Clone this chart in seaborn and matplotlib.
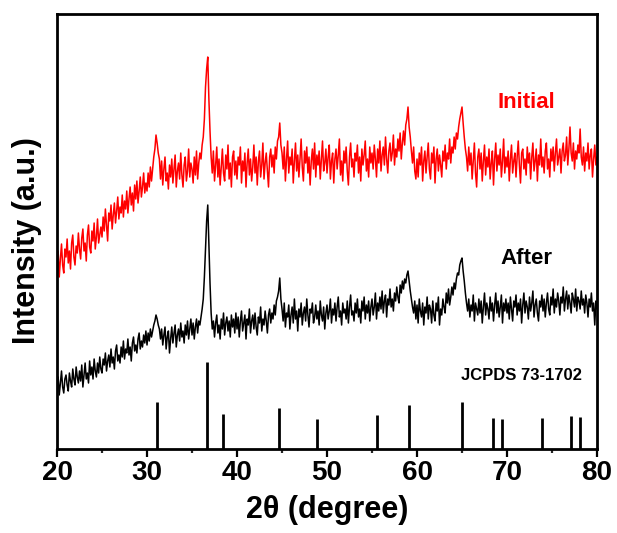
import numpy as np
import pandas as pd
import matplotlib
matplotlib.use("Agg")
import matplotlib.pyplot as plt
import seaborn as sns

# ---- data (intensity in arbitrary units), 2θ step 0.125° ----
initial = [
    # 20.0 - 24.875
    180, 198, 172, 190, 205, 184, 176, 200, 192, 210,
    186, 198, 180, 206, 214, 192, 184, 203, 196, 216,
    200, 190, 211, 220, 198, 206, 188, 214, 224, 202,
    196, 218, 208, 226, 200, 212, 230, 206, 214, 222,
    # 25.0 - 29.875
    212, 232, 218, 240, 224, 208, 236, 228, 244, 220,
    234, 246, 226, 238, 252, 230, 242, 236, 254, 232,
    248, 240, 258, 236, 250, 262, 244, 256, 238, 264,
    250, 268, 246, 258, 272, 252, 262, 276, 256, 266,
    # 30.0 - 34.875
    258, 276, 262, 282, 268, 280, 292, 300,
    314, 306, 296, 290,
    270, 288, 264, 280, 292, 268, 276, 260, 284, 272,
    290, 266, 280, 294, 262, 278, 286, 270, 296, 274,
    262, 284, 292, 268, 278, 300, 272, 286,
    # 35.0 - 39.875
    280, 266, 292, 274, 298, 270, 286, 296,
    290, 304, 312, 330, 362, 380, 392, 350,
    318, 292, 276, 298, 268, 284, 302, 272,
    290, 264, 282, 300, 276, 268, 294, 280,
    304, 270, 286, 262, 292, 298, 274, 288,
    # 40.0 - 44.875
    270, 292, 284, 302, 266, 288, 278, 296,
    262, 286, 300, 274, 290, 268, 282, 304,
    276, 292, 264, 288, 298, 272, 284, 306,
    270, 286, 296, 278, 262, 292, 300, 282,
    294, 276, 302, 290, 308, 312, 326, 304,
    # 45.0 - 49.875
    296, 280, 302, 268, 290, 308, 276, 292,
    284, 300, 266, 288, 306, 278, 294, 272,
    290, 310, 282, 268, 298, 286, 302, 276,
    292, 264, 288, 300, 280, 306, 272, 294,
    284, 298, 270, 290, 308, 278, 286, 300,
    # 50.0 - 54.875
    276, 292, 304, 270, 288, 296, 266, 290,
    300, 280, 294, 310, 274, 288, 268, 298,
    286, 302, 278, 264, 292, 306, 282, 290,
    272, 296, 288, 304, 276, 292, 268, 300,
    284, 294, 308, 278, 290, 272, 302, 286,
    # 55.0 - 59.875
    296, 280, 304, 290, 272, 300, 286, 308,
    278, 294, 302, 284, 312, 290, 276, 298,
    306, 288, 296, 314, 284, 300, 292, 310,
    298, 316, 290, 306, 318, 304, 324, 330,
    342, 322, 312, 298, 286, 302, 278, 270,
    # 60.0 - 64.875
    290, 272, 296, 284, 302, 268, 288, 298,
    276, 292, 306, 280, 270, 296, 286, 302,
    266, 290, 300, 278, 294, 284, 272, 298,
    288, 304, 280, 296, 290, 310, 286, 302,
    296, 312, 300, 316, 310, 322, 330, 336,
    # 65.0 - 69.875
    342, 326, 312, 300, 292, 278, 302, 284,
    296, 270, 288, 306, 276, 262, 292, 300,
    280, 296, 268, 288, 304, 274, 292, 282,
    300, 270, 286, 298, 264, 290, 306, 278,
    294, 284, 300, 272, 288, 310, 276, 292,
    # 70.0 - 74.875
    282, 298, 268, 290, 304, 276, 288, 296,
    272, 292, 308, 284, 266, 296, 300, 280,
    290, 274, 302, 286, 296, 270, 292, 306,
    278, 288, 300, 268, 294, 284, 310, 282,
    292, 276, 298, 306, 280, 290, 272, 300,
    # 75.0 - 79.875
    288, 302, 278, 296, 310, 284, 292, 300,
    276, 298, 306, 288, 294, 312, 284, 300,
    322, 296, 288, 306, 280, 298, 290, 304,
    296, 320, 292, 284, 302, 278, 296, 288,
    306, 280, 294, 300, 272, 290, 304, 284,
    # 80.0
    292,
]

after = [
    # 20.0 - 24.875
    60, 72, 54, 66, 78, 62, 56, 70, 74, 64,
    58, 76, 68, 62, 80, 70, 64, 82, 72, 66,
    78, 68, 84, 62, 74, 86, 70, 76, 66, 88,
    74, 82, 70, 90, 78, 72, 86, 76, 92, 80,
    # 25.0 - 29.875
    76, 90, 84, 96, 78, 88, 94, 82, 100, 86,
    92, 80, 98, 104, 88, 94, 86, 102, 92, 108,
    90, 100, 96, 110, 94, 102, 88, 106, 112, 98,
    104, 96, 110, 116, 100, 108, 102, 114, 106, 118,
    # 30.0 - 34.875
    104, 116, 108, 120, 112, 118, 124, 128,
    134, 130, 124, 120,
    110, 120, 104, 114, 122, 100, 112, 118, 96, 110,
    122, 106, 116, 124, 102, 114, 120, 108, 126, 112,
    118, 106, 124, 114, 128, 110, 120, 130,
    # 35.0 - 39.875
    114, 126, 110, 122, 130, 116, 128, 124,
    132, 140, 150, 172, 200, 228, 244, 206,
    166, 136, 120, 128, 112, 126, 134, 116,
    124, 110, 130, 120, 136, 114, 126, 132,
    118, 128, 112, 134, 122, 130, 116, 136,
    # 40.0 - 44.875
    120, 132, 112, 128, 138, 118, 126, 134,
    110, 130, 124, 140, 116, 128, 134, 120,
    136, 122, 114, 132, 126, 142, 118, 130,
    124, 138, 128, 116, 134, 140, 126, 136,
    130, 144, 134, 148, 152, 158, 171, 150,
    # 45.0 - 49.875
    140, 128, 146, 122, 136, 132, 144, 120,
    134, 142, 126, 150, 130, 138, 118, 140,
    132, 146, 124, 136, 142, 128, 150, 134,
    122, 140, 136, 146, 126, 132, 144, 130,
    138, 124, 148, 134, 128, 142, 120, 136,
    # 50.0 - 54.875
    144, 130, 138, 150, 126, 140, 134, 146,
    128, 142, 152, 132, 138, 124, 146, 136,
    140, 130, 148, 126, 142, 154, 134, 138,
    128, 146, 136, 150, 132, 140, 126, 148,
    138, 152, 130, 144, 136, 148, 128, 142,
    # 55.0 - 59.875
    150, 134, 142, 156, 130, 146, 138, 152,
    140, 158, 136, 148, 154, 132, 150, 144,
    160, 142, 150, 138, 156, 148, 162, 152,
    146, 164, 156, 168, 160, 170, 166, 174,
    178, 168, 158, 150, 142, 136, 148, 130,
    # 60.0 - 64.875
    144, 126, 150, 138, 132, 146, 124, 142,
    136, 152, 130, 144, 140, 126, 148, 134,
    128, 146, 138, 152, 124, 140, 134, 150,
    142, 136, 156, 146, 160, 144, 152, 162,
    154, 166, 160, 170, 176, 174, 184, 188,
    # 65.0 - 69.875
    191, 178, 168, 156, 146, 138, 150, 132,
    144, 138, 154, 128, 146, 140, 134, 150,
    136, 148, 126, 142, 156, 134, 146, 140,
    130, 152, 138, 146, 128, 144, 156, 136,
    148, 132, 142, 154, 126, 146, 138, 150,
    # 70.0 - 74.875
    136, 146, 130, 152, 140, 128, 148, 142,
    154, 134, 146, 138, 150, 126, 144, 156,
    136, 148, 142, 130, 152, 138, 146, 158,
    132, 144, 150, 136, 128, 148, 142, 154,
    138, 150, 132, 146, 156, 140, 134, 152,
    # 75.0 - 79.875
    144, 160, 136, 150, 142, 156, 148, 134,
    152, 146, 162, 138, 150, 158, 140, 154,
    146, 136, 156, 150, 142, 160, 138, 152,
    148, 140, 158, 144, 150, 136, 154, 146,
    132, 150, 142, 156, 138, 146, 124, 148,
    # 80.0
    140,
]

two_theta = [20 + 0.125 * i for i in range(481)]

# JCPDS 73-1702 reference lines
ref_pos = [31.1, 36.7, 38.4, 44.7, 48.9, 55.5, 59.1, 65.0, 68.4, 69.4, 73.9, 77.1, 78.1]
ref_int = [47, 87, 35, 41, 30, 34, 44, 47, 31, 30, 31, 33, 32]

x_ticks = [20, 30, 40, 50, 60, 70, 80]

# ---- styling ----
sns.set_theme(style="ticks")
plt.rcParams["font.family"] = ["Liberation Sans", "DejaVu Sans"]
plt.rcParams["font.weight"] = "bold"
plt.rcParams["mathtext.default"] = "regular"

fig = plt.figure(figsize=(6.17, 5.33), dpi=100)
ax = fig.add_axes([0.0924, 0.1576, 0.8752, 0.8161])

df = pd.DataFrame({"two_theta": two_theta, "Initial": initial, "After": after})
sns.lineplot(data=df, x="two_theta", y="Initial", color="#ff0000", lw=1.1, ax=ax)
sns.lineplot(data=df, x="two_theta", y="After", color="#000000", lw=1.1, ax=ax)
ax.vlines(ref_pos, 0, ref_int, colors="black", lw=2.0)

ax.set_xlim(20, 80)
ax.set_ylim(0, 435)
ax.set_xticks(x_ticks)
ax.set_xticks([25, 35, 45, 55, 65, 75], minor=True)
ax.set_yticks([])
ax.tick_params(axis="x", which="major", length=6, width=1.6, direction="out",
               labelsize=20, pad=2, colors="black")
ax.tick_params(axis="x", which="minor", length=3, width=1.6, direction="out")
for lbl in ax.get_xticklabels():
    lbl.set_fontweight("bold")
for s in ax.spines.values():
    s.set_visible(True)
    s.set_linewidth(2.0)
    s.set_color("black")

ax.set_xlabel("2θ (degree)", fontsize=22, fontweight="bold", color="black")
ax.set_ylabel("Intensity (a.u.)", fontsize=22, fontweight="bold", color="black")
ax.xaxis.set_label_coords(0.5, -0.105)
ax.yaxis.set_label_coords(-0.028, 0.48)

ax.text(72.1, 347, "Initial", color="#ff0000", fontsize=16, fontweight="bold",
        ha="center", va="center")
ax.text(72.2, 191, "After", color="black", fontsize=16, fontweight="bold",
        ha="center", va="center")
ax.text(71.6, 74, "JCPDS 73-1702", color="black", fontsize=12, fontweight="bold",
        ha="center", va="center")

fig.savefig("out.png", dpi=100, facecolor="white")
